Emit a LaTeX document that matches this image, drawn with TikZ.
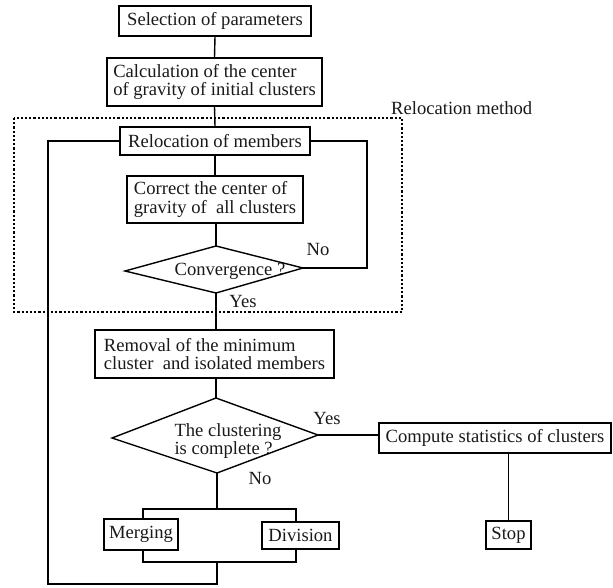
\documentclass[tikz,border=0pt]{standalone}
\usepackage{fontspec}
\setmainfont{Liberation Serif}
\begin{document}
\begin{tikzpicture}[x=1pt,y=-1pt,
  every node/.style={font=\fontsize{18.6}{18.8}\selectfont, text=black!90},
  box/.style={draw, line width=1.4pt, inner sep=0pt, align=left},
  lab/.style={inner sep=0pt},
  ln/.style={line width=1.4pt},
  dotbox/.style={line width=1.4pt, dash pattern=on 2.2pt off 2pt}]
\useasboundingbox (0,0) rectangle (613,588);

% boxes
\node[box, minimum width=192pt, minimum height=30pt] (b1) at (215,21) {Selection of parameters};
\node[box, minimum width=215pt, minimum height=48pt] (b2) at (214.5,82) {Calculation of the center\\of gravity of initial clusters};
\node[box, minimum width=190pt, minimum height=28pt] (b3) at (215,141) {Relocation of members};
\node[box, minimum width=176pt, minimum height=47pt] (b4) at (215,199.5) {Correct the center of\\gravity of\ \ all clusters};
\node[box, minimum width=239pt, minimum height=48pt] (b5) at (214.5,354) {Removal of the minimum\\cluster\ \ and isolated members};
\node[box, minimum width=232pt, minimum height=30pt] (b6) at (495,438) {Compute statistics of clusters};
\node[box, minimum width=45pt, minimum height=28pt] (stop) at (508.5,535) {Stop};
\node[box, minimum width=74pt, minimum height=31pt] (merg) at (141,534.5) {Merging};
\node[box, minimum width=77pt, minimum height=27pt] (div) at (300.5,535.5) {Division};

% diamond 1
\node[lab] (d1) at (230,271) {Convergence ?};
\coordinate (d1t) at (216,246);
\coordinate (d1l) at (125,271);
\coordinate (d1r) at (303,268);
\coordinate (d1b) at (216,293);
\draw[ln] (d1t) -- (d1r) -- (d1b) -- (d1l) -- cycle;

% diamond 2
\node[lab, align=left] (d2) at (228,441) {The clustering\\is complete ?};
\coordinate (d2t) at (216,398);
\coordinate (d2l) at (112,438);
\coordinate (d2r) at (318,435);
\coordinate (d2b) at (217,473);
\draw[ln] (d2t) -- (d2r) -- (d2b) -- (d2l) -- cycle;

% dotted frame and its label
\draw[dotbox] (14,118) rectangle (402,312);
\node[lab, anchor=west] (relm) at (391,108) {Relocation method};

% labels
\node[lab] (no1) at (318,250) {No};
\node[lab] (yes1) at (243,302) {Yes};
\node[lab] (yes2) at (327,418) {Yes};
\node[lab] (no2) at (260,478) {No};

% helper coordinates
\coordinate (rr) at (367,141);
\coordinate (rb) at (367,268);
\coordinate (bt) at (217,509);
\coordinate (btl) at (143,509);
\coordinate (btr) at (296,509);
\coordinate (bbl) at (143,562);
\coordinate (bbr) at (296,562);
\coordinate (bbm) at (217,562);
\coordinate (lb) at (217,584);
\coordinate (ll) at (48,584);
\coordinate (lt) at (48,141);

% connectors
\draw[ln] (b1.south) -- (b2.north);
\draw[ln] (b2.south) -- (b3.north);
\draw[ln] (b3.south) -- (b4.north);
\draw[ln] (b4.south -| d1t) -- (d1t);
\draw[ln] (d1b) -- (b5.north -| d1b);
\draw[ln] (b5.south -| d2t) -- (d2t);
\draw[ln] (d2r) -- (b6.west |- d2r);
\draw[ln] (b6.south -| stop.north) -- (stop.north);
\draw[ln] (b3.east) -- (rr) -- (rb) -- (d1r);
\draw[ln] (d2b) -- (bt);
\draw[ln] (merg.north -| btl) -- (btl) -- (btr) -- (div.north -| btr);
\draw[ln] (merg.south -| bbl) -- (bbl) -- (bbr) -- (div.south -| bbr);
\draw[ln] (bbm) -- (lb) -- (ll) -- (lt) -- (b3.west);
\end{tikzpicture}
\end{document}
